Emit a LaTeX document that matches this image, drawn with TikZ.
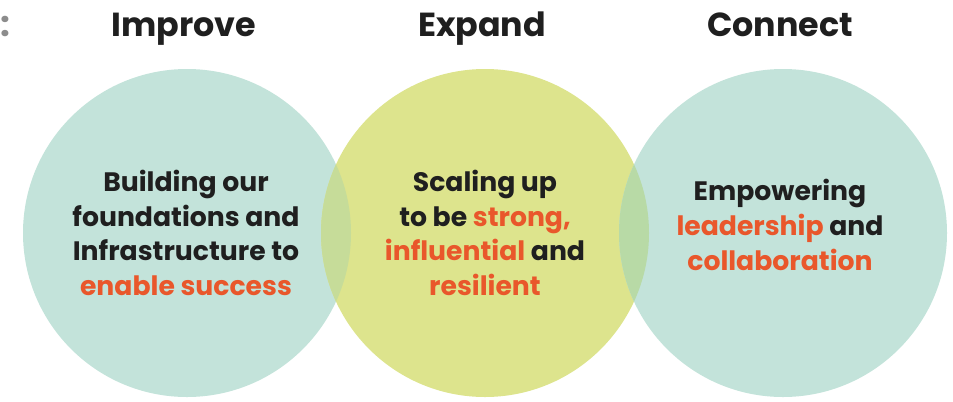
\documentclass[tikz,border=0pt]{standalone}
\usepackage{fontspec}
\setmainfont{Poppins}
\usepackage{tikz}

\definecolor{tealc}{HTML}{C3E3DA}
\definecolor{limec}{HTML}{DDE48D}
\definecolor{lapl}{HTML}{C6DC99}
\definecolor{lapr}{HTML}{B8DAA6}
\definecolor{accent}{HTML}{E9572B}
\definecolor{inkc}{HTML}{1F1F1F}

\tikzset{
  ring/.style={circle,minimum size=246pt,inner sep=0pt},
  head/.style={anchor=base,text=inkc,font=\fontsize{25}{30}\selectfont\bfseries},
  blurb/.style={align=center,text=inkc,font=\fontsize{20}{26}\selectfont\bfseries},
}

\begin{document}
\begin{tikzpicture}[x=0.75pt,y=-0.75pt]
\useasboundingbox (0,0) rectangle (953,401);

\node[ring,fill=tealc] (c1) at (187,233) {};
\node[ring,fill=limec] (c2) at (485,233) {};
\node[ring,fill=tealc] (c3) at (783,233) {};

% overlaps
\begin{scope}
\clip (c1.center) circle[radius=123pt];
\fill[lapl] (c2.center) circle[radius=123pt];
\end{scope}
\begin{scope}
\clip (c2.center) circle[radius=123pt];
\fill[lapr] (c3.center) circle[radius=123pt];
\end{scope}

\node[anchor=base east,text=black!45,font=\fontsize{26}{30}\selectfont\bfseries] (cut) at (15,36) {:};

\node[head] (h1) at (184,36) {Improve};
\node[head] (h2) at (482,36) {Expand};
\node[head] (h3) at (780,36) {Connect};

\node[blurb] (t1) at (186,233) {Building our\\foundations and\\Infrastructure to\\\textcolor{accent}{enable success}};
\node[blurb] (t2) at (485,233) {Scaling up\\to be \textcolor{accent}{strong,}\\\textcolor{accent}{influential} and\\\textcolor{accent}{resilient}};
\node[blurb] (t3) at (780,225) {Empowering\\\textcolor{accent}{leadership} and\\\textcolor{accent}{collaboration}};
\end{tikzpicture}
\end{document}
